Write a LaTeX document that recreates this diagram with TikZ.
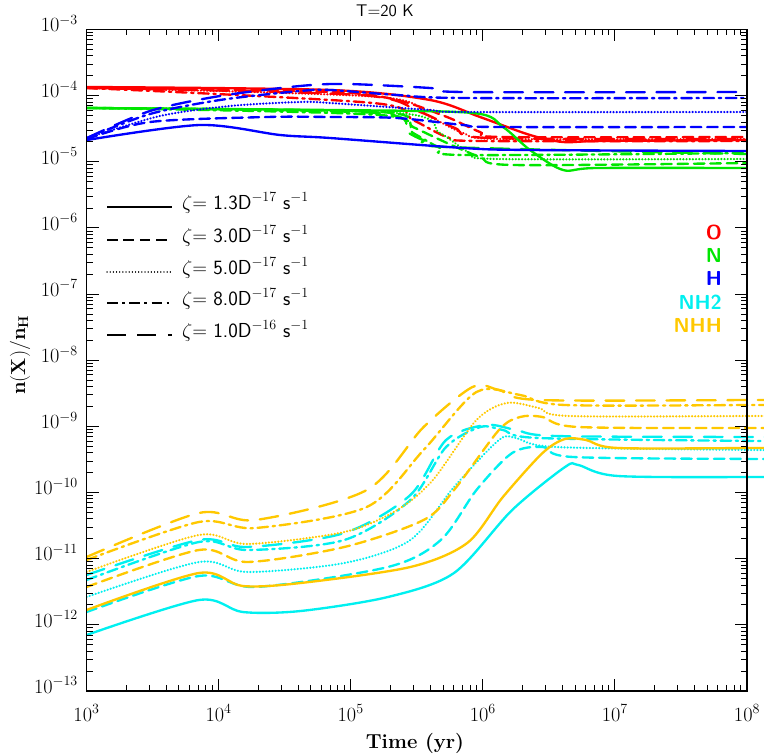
\documentclass[tikz,border=0pt]{standalone}
\usepackage{tikz}
\usepackage{amsmath}
\definecolor{cN}{RGB}{0,230,0}
\definecolor{cNHH}{RGB}{255,200,0}
\definecolor{cNH}{RGB}{0,240,240}

\begin{document}
\begin{tikzpicture}[
    x=0.3mm, y=-0.3mm,
    curve/.style={line width=2pt,smooth,line cap=round},
    sol/.style={},
    dsh/.style={dash pattern=on 9pt off 5pt},
    dtt/.style={dash pattern=on 0.1pt off 2.6pt, line cap=round},
    ddot/.style={dash pattern=on 9pt off 4pt on 2pt off 4pt},
    ldsh/.style={dash pattern=on 16pt off 10pt},
    ticklab/.style={font=\LARGE},
    spc/.style={font=\LARGE\sffamily\bfseries,anchor=east}]

  \useasboundingbox (0,0) rectangle (764,756);

  \begin{scope}
  \clip (86.5,29.5) rectangle (747,691);
  % curves: O
  \draw[curve,red,sol] plot coordinates {(87,87) (330,90) (430,100) (480,117) (530,135) (563,142) (600,141) (747,140)};
  \draw[curve,red,dsh] plot coordinates {(87,88) (330,92) (397,100) (447,117) (480,132) (503,137) (747,137)};
  \draw[curve,red,dtt] plot coordinates {(87,88) (380,97) (430,117) (463,133) (500,139) (747,139)};
  \draw[curve,red,ddot] plot coordinates {(87,88) (373,103) (413,120) (447,137) (480,141) (747,141)};
  \draw[curve,red,ldsh] plot coordinates {(87,88) (360,95) (420,112) (455,128) (490,138) (747,139)};
  % N
  \draw[curve,cN,sol] plot coordinates {(87,108) (330,110) (473,113) (503,127) (530,150) (563,170) (597,168) (747,168)};
  \draw[curve,cN,dsh] plot coordinates {(87,108) (380,112) (413,127) (447,143) (480,157) (513,165) (747,163)};
  \draw[curve,cN,dtt] plot coordinates {(87,108) (397,113) (440,133) (470,153) (497,159) (747,159)};
  \draw[curve,cN,ddot] plot coordinates {(87,108) (380,115) (413,133) (440,148) (463,155) (747,153)};
  \draw[curve,cN,ldsh] plot coordinates {(87,108) (377,113) (407,132) (423,140) (447,147) (747,154)};
  % H
  \draw[curve,blue,sol] plot coordinates {(87,140) (200,125) (280,135) (330,138) (463,148) (530,150) (747,151)};
  \draw[curve,blue,dsh] plot coordinates {(87,139) (150,122) (267,117) (330,117) (397,118) (463,125) (497,127) (747,127)};
  \draw[curve,blue,dtt] plot coordinates {(87,138) (160,116) (230,106) (300,102) (330,103) (430,110) (463,112) (747,112)};
  \draw[curve,blue,ddot] plot coordinates {(87,138) (150,114) (220,100) (300,91) (330,90) (397,95) (463,98) (747,98)};
  \draw[curve,blue,ldsh] plot coordinates {(87,138) (150,111) (220,96) (300,86) (347,84) (430,88) (463,92) (747,92)};
  \end{scope}

  \begin{scope}[shift={(-25.73,0)},xscale=1.3216]
  \clip (85,29.5) rectangle (630,691);
  % NH2
  \draw[curve,cNH,sol] plot coordinates {(85,635) (170,600) (203,612) (247,611) (313,597) (363,573) (407,510) (447,467) (457,465) (487,476) (593,477) (640,476)};
  \draw[curve,cNH,dsh] plot coordinates {(85,612) (170,576) (213,587) (313,567) (353,540) (380,490) (407,453) (430,447) (453,457) (593,459) (640,459)};
  \draw[curve,cNH,dtt] plot coordinates {(85,597) (170,562) (207,572) (280,563) (330,540) (363,487) (397,440) (410,438) (440,447) (593,450) (640,450)};
  \draw[curve,cNH,ddot] plot coordinates {(85,580) (170,542) (207,550) (280,540) (330,500) (357,447) (383,427) (400,430) (427,438) (593,441) (640,441)};
  \draw[curve,cNH,ldsh] plot coordinates {(85,575) (170,540) (207,547) (280,533) (330,495) (357,440) (387,425) (410,430) (440,436) (593,437) (640,437)};
  % NHH
  \draw[curve,cNHH,sol] plot coordinates {(85,610) (170,573) (203,586) (247,583) (330,567) (373,543) (400,497) (430,453) (447,439) (463,440) (487,448) (593,448) (640,448)};
  \draw[curve,cNHH,dsh] plot coordinates {(85,587) (170,550) (207,562) (280,547) (340,520) (363,490) (397,430) (413,417) (430,417) (457,427) (593,428) (640,428)};
  \draw[curve,cNHH,dtt] plot coordinates {(85,572) (170,535) (207,544) (280,532) (320,510) (347,480) (380,420) (403,403) (427,408) (450,416) (593,416) (640,416)};
  \draw[curve,cNHH,ddot] plot coordinates {(85,560) (170,522) (213,528) (297,507) (340,450) (380,392) (413,395) (447,405) (593,405) (640,405)};
  \draw[curve,cNHH,ldsh] plot coordinates {(85,557) (170,513) (213,520) (297,490) (340,427) (377,387) (397,390) (427,400) (593,400) (640,400)};
  \end{scope}

  % frame and ticks
  \draw[line width=1.2pt] (86.5,29.5) rectangle (747,691);
  \foreach \k in {0,...,4}{
    \foreach \m in {2,...,9}{
      \pgfmathsetmacro{\xx}{86.5+132.1*(\k+log10(\m))}
      \draw[line width=0.8pt] (\xx,691) -- ++(0,-6) (\xx,29.5) -- ++(0,6);
    }
  }
  \foreach \k in {0,...,5}{
    \pgfmathsetmacro{\xx}{86.5+132.1*\k}
    \draw[line width=0.8pt] (\xx,691) -- ++(0,-12) (\xx,29.5) -- ++(0,12);
    \pgfmathtruncatemacro{\ex}{3+\k}
    \node[ticklab] (xl\k) at (\xx,713) {$10^{\ex}$};
  }
  \foreach \k in {0,...,9}{
    \foreach \m in {2,...,9}{
      \pgfmathsetmacro{\yy}{691-66.15*(\k+log10(\m))}
      \draw[line width=0.8pt] (86.5,\yy) -- ++(6,0) (747,\yy) -- ++(-6,0);
    }
  }
  \foreach \k in {0,...,10}{
    \pgfmathsetmacro{\yy}{691-66.15*\k}
    \draw[line width=0.8pt] (86.5,\yy) -- ++(12,0) (747,\yy) -- ++(-12,0);
    \pgfmathtruncatemacro{\ex}{13-\k}
    \node[ticklab,anchor=east] (yl\k) at (82,\yy-6) {$10^{-\ex}$};
  }

  % labels
  \node[font=\Large\sffamily] (title) at (385,11) {T=20 K};
  \node[font=\LARGE\bfseries] (xlab) at (415,743) {Time (yr)};
  \node[font=\LARGE,rotate=90] (ylab) at (20,355) {$\mathbf{n(X)/n_H}$};

  % species
  \node[spc,red] (sO) at (726,232) {O};
  \node[spc,cN] (sN) at (726,255) {N};
  \node[spc,blue] (sH) at (726,278) {H};
  \node[spc,cNH] (sNH2) at (726,302) {NH2};
  \node[spc,cNHH] (sNHH) at (726,325) {NHH};

  % legend
  \foreach \s/\v/\e/\yy in {sol/1.3/17/207, dsh/3.0/17/240, dtt/5.0/17/272, ddot/8.0/17/303, ldsh/1.0/16/335}{
    \draw[line width=1pt,\s] (107,\yy) -- (172,\yy);
    \node[font=\LARGE\sffamily,anchor=west] at (178,\yy-4) {$\zeta$= \v D$^{-\e}$ s$^{-1}$};
  }
\end{tikzpicture}
\end{document}
